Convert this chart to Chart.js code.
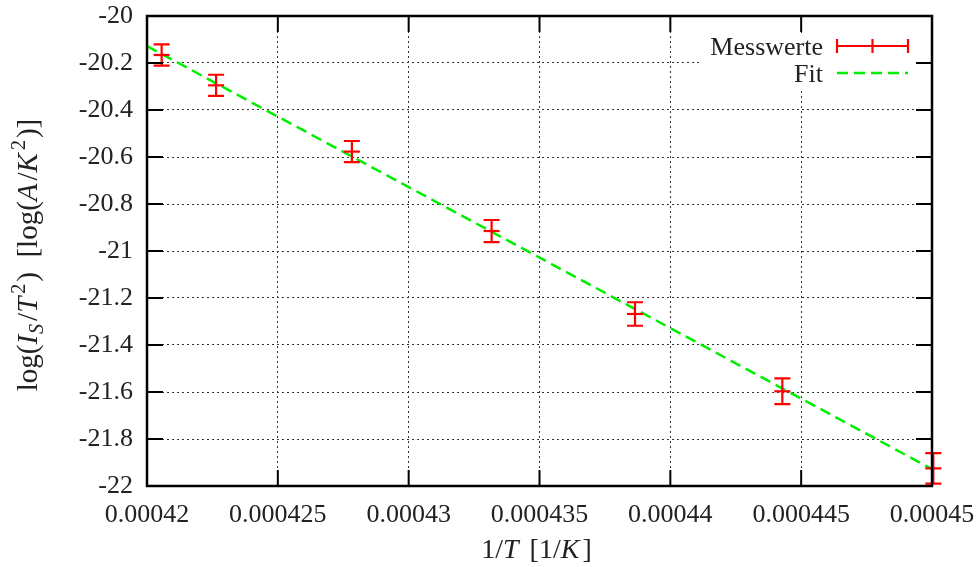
<!DOCTYPE html>
<html>
<head>
<meta charset="utf-8">
<script src="https://cdn.jsdelivr.net/npm/chart.js@4.4.1/dist/chart.umd.min.js"></script>
<style>
html, body { margin: 0; padding: 0; background: #fff; }
</style>
</head>
<body>
<canvas id="chart" width="979" height="567"></canvas>
<script>
// measured points: 1/T and log(I_S/T^2) with error
const xValues = [0.00042056, 0.00042264, 0.00042783, 0.00043317, 0.00043865, 0.00044428, 0.00045005];
const yValues = [-20.166, -20.295, -20.577, -20.915, -21.268, -21.597, -21.925];
const yErrors = [0.045, 0.045, 0.045, 0.047, 0.050, 0.055, 0.065];

// fit line end points
const fitX = [0.00042, 0.00045];
const fitY = [-20.128, -21.928];

const xTicks = [0.00042, 0.000425, 0.00043, 0.000435, 0.00044, 0.000445, 0.00045];
const xTickLabels = ['0.00042', '0.000425', '0.00043', '0.000435', '0.00044', '0.000445', '0.00045'];
const yTicks = [-20, -20.2, -20.4, -20.6, -20.8, -21, -21.2, -21.4, -21.6, -21.8, -22];
const yTickLabels = ['-20', '-20.2', '-20.4', '-20.6', '-20.8', '-21', '-21.2', '-21.4', '-21.6', '-21.8', '-22'];

const seriesNames = ['Messwerte', 'Fit'];

const xTitleParts = [
    { t: '1/' }, { t: 'T', it: true, gap: 4 }, { t: ' [1/' }, { t: 'K', it: true, gap: 3 }, { t: ']' }
];
const yTitleParts = [
    { t: 'log(' }, { t: 'I', it: true, gap: 1 }, { t: 'S', it: true, sub: true, gap: 3 }, { t: '/' },
    { t: 'T', it: true, gap: 3 }, { t: '2', sup: true, gap: 2 }, { t: ')  [log(' }, { t: 'A', it: true, gap: 3 },
    { t: '/' }, { t: 'K', it: true, gap: 3 }, { t: '2', sup: true, gap: 2 }, { t: ')]' }
];

const FONT = "'Liberation Serif', 'Times New Roman', serif";
const TEXT_COLOR = '#222';

function partFont(p, size) {
    const s = (p.sub || p.sup) ? Math.round(size * 0.7) : size;
    return (p.it ? 'italic ' : '') + s + 'px ' + FONT;
}

function drawRich(ctx, parts, x, y, size) {
    let total = 0;
    parts.forEach(p => {
        ctx.font = partFont(p, size);
        total += ctx.measureText(p.t).width + (p.gap || 0);
    });
    let cx = x - total / 2;
    ctx.textAlign = 'left';
    ctx.textBaseline = 'alphabetic';
    parts.forEach(p => {
        ctx.font = partFont(p, size);
        const dy = p.sub ? size * 0.22 : (p.sup ? -size * 0.4 : 0);
        ctx.fillText(p.t, cx, y + dy);
        cx += ctx.measureText(p.t).width + (p.gap || 0);
    });
}

// white key box behind the legend
const keyBoxPlugin = {
    id: 'keyBox',
    beforeDatasetsDraw(chart) {
        const ctx = chart.ctx;
        const a = chart.chartArea;
        ctx.save();
        ctx.fillStyle = '#fff';
        ctx.fillRect(a.right - 232, a.top + 18, 218, 54);
        ctx.restore();
    }
};

const errorBarPlugin = {
    id: 'errorBars',
    afterDatasetsDraw(chart) {
        const ctx = chart.ctx;
        const ys = chart.scales.y;
        const meta = chart.getDatasetMeta(0);
        ctx.save();
        ctx.strokeStyle = '#ff0000';
        ctx.lineWidth = 2.2;
        meta.data.forEach((pt, i) => {
            const top = ys.getPixelForValue(yValues[i] + yErrors[i]);
            const bot = ys.getPixelForValue(yValues[i] - yErrors[i]);
            ctx.beginPath();
            ctx.moveTo(pt.x, top); ctx.lineTo(pt.x, bot);
            ctx.moveTo(pt.x - 8, top); ctx.lineTo(pt.x + 8, top);
            ctx.moveTo(pt.x - 8, bot); ctx.lineTo(pt.x + 8, bot);
            ctx.stroke();
        });
        ctx.restore();
    }
};

const framePlugin = {
    id: 'frame',
    afterDraw(chart) {
        const ctx = chart.ctx;
        const a = chart.chartArea;
        const xs = chart.scales.x, ys = chart.scales.y;
        ctx.save();
        ctx.strokeStyle = '#000';
        ctx.lineWidth = 2;
        ctx.beginPath();
        xs.ticks.forEach(t => {
            const px = xs.getPixelForValue(t.value);
            ctx.moveTo(px, a.bottom); ctx.lineTo(px, a.bottom - 16);
            ctx.moveTo(px, a.top); ctx.lineTo(px, a.top + 16);
        });
        ys.ticks.forEach(t => {
            const py = ys.getPixelForValue(t.value);
            ctx.moveTo(a.left, py); ctx.lineTo(a.left + 16, py);
            ctx.moveTo(a.right, py); ctx.lineTo(a.right - 16, py);
        });
        ctx.stroke();
        ctx.lineWidth = 2.5;
        ctx.strokeRect(a.left, a.top, a.right - a.left, a.bottom - a.top);

        // legend
        ctx.fillStyle = TEXT_COLOR;
        ctx.font = '26px ' + FONT;
        ctx.textAlign = 'right';
        ctx.textBaseline = 'alphabetic';
        const tx = a.right - 109;
        ctx.fillText(seriesNames[0], tx, a.top + 39);
        ctx.fillText(seriesNames[1], tx, a.top + 66);
        const sx0 = a.right - 95, sx1 = a.right - 24;
        const ly0 = a.top + 30, ly1 = a.top + 57;
        ctx.strokeStyle = '#ff0000';
        ctx.lineWidth = 2.2;
        ctx.beginPath();
        ctx.moveTo(sx0, ly0); ctx.lineTo(sx1, ly0);
        ctx.moveTo(sx0, ly0 - 7); ctx.lineTo(sx0, ly0 + 7);
        ctx.moveTo(sx1, ly0 - 7); ctx.lineTo(sx1, ly0 + 7);
        const mid = (sx0 + sx1) / 2;
        ctx.moveTo(mid, ly0 - 7); ctx.lineTo(mid, ly0 + 7);
        ctx.stroke();
        ctx.strokeStyle = '#00ee00';
        ctx.lineWidth = 2.5;
        ctx.setLineDash([11, 6]);
        ctx.beginPath();
        ctx.moveTo(sx0, ly1); ctx.lineTo(sx1, ly1);
        ctx.stroke();
        ctx.setLineDash([]);

        // axis titles
        ctx.fillStyle = TEXT_COLOR;
        drawRich(ctx, xTitleParts, (a.left + a.right) / 2 - 3, 558, 28);
        ctx.translate(37, (a.top + a.bottom) / 2 + 4);
        ctx.rotate(-Math.PI / 2);
        drawRich(ctx, yTitleParts, 0, 0, 29);
        ctx.restore();
    }
};

const ctx = document.getElementById('chart').getContext('2d');
new Chart(ctx, {
    type: 'scatter',
    data: {
        datasets: [{
            label: seriesNames[0],
            data: xValues.map((x, i) => ({ x: x, y: yValues[i] })),
            pointStyle: 'line',
            pointRadius: 8,
            pointBorderWidth: 2.2,
            borderColor: '#ff0000',
            backgroundColor: '#ff0000',
            showLine: false,
            clip: false,
            order: 0
        }, {
            label: seriesNames[1],
            data: fitX.map((x, i) => ({ x: x, y: fitY[i] })),
            showLine: true,
            borderColor: '#00ee00',
            borderWidth: 2.5,
            borderDash: [11, 6],
            pointRadius: 0,
            order: 1
        }]
    },
    options: {
        responsive: false,
        animation: false,
        layout: { padding: { top: 16, right: 47, left: 0, bottom: 0 } },
        plugins: {
            legend: { display: false },
            tooltip: { enabled: false }
        },
        scales: {
            x: {
                type: 'linear',
                min: xTicks[0],
                max: xTicks[xTicks.length - 1],
                afterBuildTicks: s => { s.ticks = xTicks.map(v => ({ value: v })); },
                afterFit: s => { s.height = 81; s.paddingLeft = 0; s.paddingRight = 0; },
                grid: { color: '#333', lineWidth: 1, drawTicks: false },
                border: { display: false, dash: [2, 3] },
                ticks: {
                    autoSkip: false,
                    maxRotation: 0,
                    padding: 14,
                    color: TEXT_COLOR,
                    font: { family: FONT, size: 26 },
                    callback: (v, i) => xTickLabels[i]
                }
            },
            y: {
                type: 'linear',
                min: yTicks[yTicks.length - 1],
                max: yTicks[0],
                afterBuildTicks: s => { s.ticks = yTicks.slice().reverse().map(v => ({ value: v })); },
                afterFit: s => { s.width = 147; s.paddingTop = 0; s.paddingBottom = 0; },
                grid: { color: '#333', lineWidth: 1, drawTicks: false },
                border: { display: false, dash: [2, 3] },
                ticks: {
                    autoSkip: false,
                    padding: 14,
                    color: TEXT_COLOR,
                    font: { family: FONT, size: 26 },
                    callback: (v, i) => yTickLabels[yTicks.length - 1 - i]
                }
            }
        }
    },
    plugins: [keyBoxPlugin, errorBarPlugin, framePlugin]
});
</script>
</body>
</html>
